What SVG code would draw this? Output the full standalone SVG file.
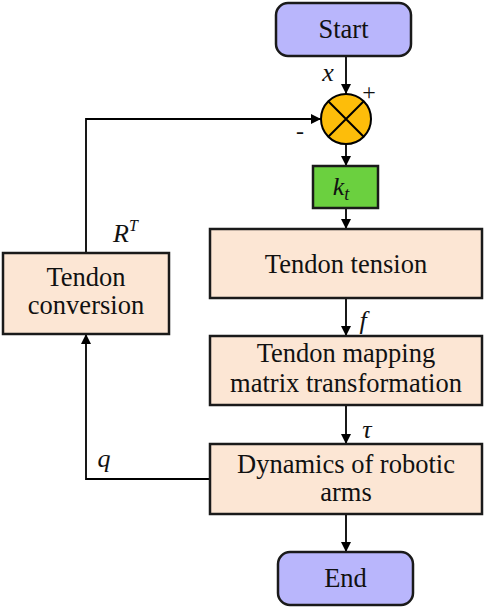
<svg xmlns="http://www.w3.org/2000/svg" width="484" height="608" viewBox="0 0 484 608">
<defs>
<marker id="ah" markerWidth="10" markerHeight="10" refX="10" refY="5" orient="auto" markerUnits="userSpaceOnUse">
<path d="M0,0 L10,5 L0,10 Z" fill="#000"/>
</marker>
</defs>
<style>
.box{stroke:#1a1a1a;stroke-width:2.5}
.term{fill:#b9b6fc}
.proc{fill:#fce6d4}
.t{font-family:'Liberation Serif','Times New Roman',Times,'DejaVu Serif',serif;font-size:26.5px;fill:#111;text-anchor:middle}
.m{font-family:'Liberation Serif','Times New Roman',Times,'DejaVu Serif',serif;font-style:italic;font-size:26px;fill:#111}
.s{font-family:'Liberation Serif','Times New Roman',Times,'DejaVu Serif',serif;font-size:24px;fill:#111;text-anchor:middle}
.c{fill:none;stroke:#000;stroke-width:1.8}
</style>
<rect width="484" height="608" fill="#fff"/>
<g id="connectors">
<path class="c" d="M346,56 V94" marker-end="url(#ah)"/>
<path class="c" d="M346,144 V166" marker-end="url(#ah)"/>
<path class="c" d="M346,208 V229" marker-end="url(#ah)"/>
<path class="c" d="M346,298 V336" marker-end="url(#ah)"/>
<path class="c" d="M346,405 V444" marker-end="url(#ah)"/>
<path class="c" d="M346,514 V552" marker-end="url(#ah)"/>
<path class="c" d="M210,479 H86 V334" marker-end="url(#ah)"/>
<path class="c" d="M86,253 V119 H321" marker-end="url(#ah)"/>
<text class="m" x="328" y="81" text-anchor="middle">x</text>
<text class="s" x="369" y="100">+</text>
<text class="s" x="300" y="139">-</text>
<text class="m" x="363" y="329" text-anchor="middle">f</text>
<text class="m" x="367" y="438" text-anchor="middle">τ</text>
<text class="m" x="104" y="467" text-anchor="middle">q</text>
<text class="m" x="113" y="242">R<tspan font-size="16" dy="-11">T</tspan></text>
</g>
<g id="start">
<rect class="box term" x="276" y="3" width="135" height="53" rx="12"/>
<text class="t" x="343.5" y="38">Start</text>
</g>
<g id="sum">
<circle cx="346" cy="119" r="25" fill="#fdbd0a" stroke="#000" stroke-width="2"/>
<path d="M328.3,101.3 L363.7,136.7 M363.7,101.3 L328.3,136.7" stroke="#000" stroke-width="2"/>
</g>
<g id="kt">
<rect class="box" x="313" y="166" width="65" height="42" fill="#6bd03f"/>
<text class="m" x="341" y="195" text-anchor="middle">k<tspan font-size="18" dy="5">t</tspan></text>
</g>
<g id="tension">
<rect class="box proc" x="210" y="229" width="272" height="69"/>
<text class="t" x="346" y="273">Tendon tension</text>
</g>
<g id="mapping">
<rect class="box proc" x="210" y="336" width="272" height="69"/>
<text class="t" x="346" y="362">Tendon mapping</text>
<text class="t" x="346" y="392">matrix transformation</text>
</g>
<g id="dynamics">
<rect class="box proc" x="210" y="444" width="272" height="70"/>
<text class="t" x="346" y="473">Dynamics of robotic</text>
<text class="t" x="346" y="501">arms</text>
</g>
<g id="conversion">
<rect class="box proc" x="3" y="253" width="166" height="81"/>
<text class="t" x="86" y="286">Tendon</text>
<text class="t" x="86" y="314">conversion</text>
</g>
<g id="end">
<rect class="box term" x="278" y="552" width="135" height="53" rx="12"/>
<text class="t" x="345.5" y="587">End</text>
</g>
</svg>
